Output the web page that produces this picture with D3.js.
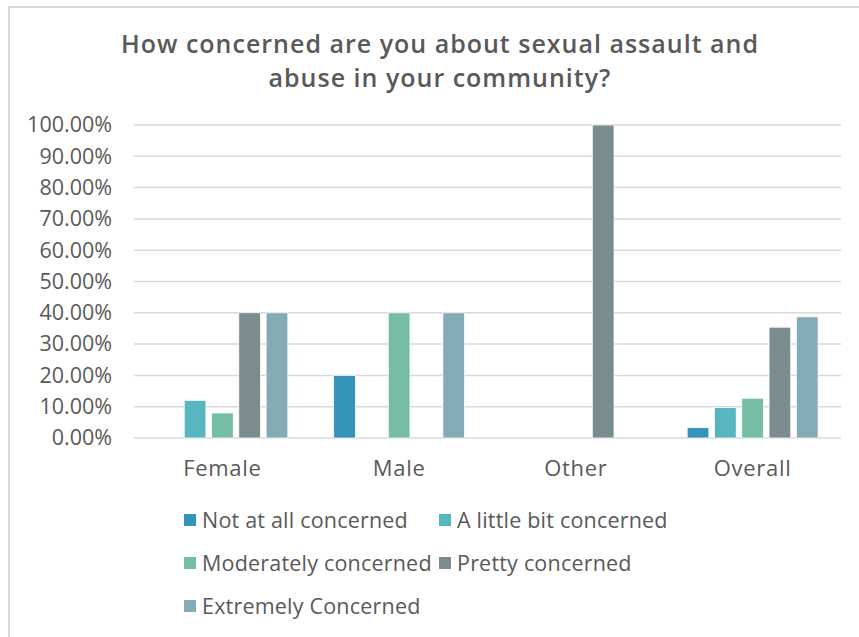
<!DOCTYPE html>
<html>
<head>
<meta charset="utf-8">
<script src="https://cdn.jsdelivr.net/npm/d3@7"></script>
<style>
  html, body { margin: 0; padding: 0; background: #fff; }
  svg { display: block; }
  text { font-family: "Open Sans", "DejaVu Sans", sans-serif; fill: #595959; }
</style>
</head>
<body>
<svg id="chart" width="859" height="637"></svg>
<script>
const titleLines = ["How concerned are you about sexual assault and", "abuse in your community?"];
const categories = ["Female", "Male", "Other", "Overall"];
const seriesNames = ["Not at all concerned", "A little bit concerned", "Moderately concerned", "Pretty concerned", "Extremely Concerned"];
const seriesColors = ["#3494BA", "#58B6C0", "#75BDA7", "#7A8C8E", "#84ACB6"];
// values per series, in order of categories (fractions)
const notAtAll   = [0,     0.20, 0,    0.033];
const littleBit  = [0.12,  0,    0,    0.097];
const moderately = [0.08,  0.40, 0,    0.127];
const pretty     = [0.40,  0,    1.00, 0.354];
const extremely  = [0.40,  0.40, 0,    0.387];
const yTicks = [0, 0.1, 0.2, 0.3, 0.4, 0.5, 0.6, 0.7, 0.8, 0.9, 1.0];

const seriesValues = [notAtAll, littleBit, moderately, pretty, extremely];

const svg = d3.select("#chart");

// chart border
svg.append("rect")
  .attr("x", 9).attr("y", 7).attr("width", 900).attr("height", 700)
  .attr("fill", "none").attr("stroke", "#d9d9d9").attr("stroke-width", 2);

// title
const title = svg.append("text")
  .attr("text-anchor", "middle")
  .attr("font-size", 25).attr("font-weight", 600)
  .style("letter-spacing", "1px");
titleLines.forEach((l, i) => {
  title.append("tspan").attr("x", 440).attr("y", 53 + i * 34).text(l);
});

const x0 = d3.scaleBand().domain(categories).range([134, 841]).paddingInner(0).paddingOuter(0);
const x1 = d3.scaleBand().domain(seriesNames).range([0, x0.bandwidth()]).paddingInner(0.205).paddingOuter(0.84);
const y = d3.scaleLinear().domain([0, 1]).range([438, 125]);

// gridlines
svg.append("g").selectAll("line").data(yTicks).join("line")
  .attr("x1", 134).attr("x2", 841)
  .attr("y1", d => y(d)).attr("y2", d => y(d))
  .attr("stroke", "#d9d9d9").attr("stroke-width", 1.5);

// y axis labels
const yAxis = d3.axisLeft(y).tickValues(yTicks).tickFormat(d3.format(".2%")).tickSize(0).tickPadding(0);
const yg = svg.append("g").attr("transform", "translate(112,0)").call(yAxis);
yg.select(".domain").remove();
yg.selectAll("text").attr("font-size", 21.5).attr("fill", "#595959")
  .style("font-family", '"Open Sans", sans-serif');

// bars
const groups = svg.append("g").selectAll("g").data(seriesNames).join("g")
  .attr("fill", (d, i) => seriesColors[i]);
groups.each(function(s, si) {
  d3.select(this).selectAll("rect")
    .data(categories.map((c, ci) => ({c, v: seriesValues[si][ci]})).filter(d => d.v > 0))
    .join("rect")
    .attr("x", d => x0(d.c) + x1(s))
    .attr("width", x1.bandwidth())
    .attr("y", d => y(d.v))
    .attr("height", d => y(0) - y(d.v))
    .attr("stroke", "#ffffff").attr("stroke-width", 0.75);
});

// x axis labels
const xAxis = d3.axisBottom(x0).tickSize(0).tickPadding(0);
const xg = svg.append("g").attr("transform", "translate(0,476)").call(xAxis);
xg.select(".domain").remove();
xg.selectAll("text").attr("font-size", 22).attr("fill", "#595959").attr("dy", 0)
  .style("font-family", '"Open Sans", sans-serif').style("letter-spacing", "0.7px");

// legend
const legendPos = [[184, 520], [439, 520], [184, 563], [439, 563], [184, 606]];
const lg = svg.append("g").selectAll("g").data(seriesNames).join("g")
  .attr("transform", (d, i) => `translate(${legendPos[i][0]},${legendPos[i][1]})`);
lg.append("rect").attr("x", 0).attr("y", -6).attr("width", 12).attr("height", 12)
  .attr("fill", (d, i) => seriesColors[i]);
lg.append("text").attr("x", 18).attr("y", 0).attr("dy", "0.35em")
  .attr("font-size", 21.5).style("letter-spacing", "0.2px").text(d => d);
</script>
</body>
</html>
